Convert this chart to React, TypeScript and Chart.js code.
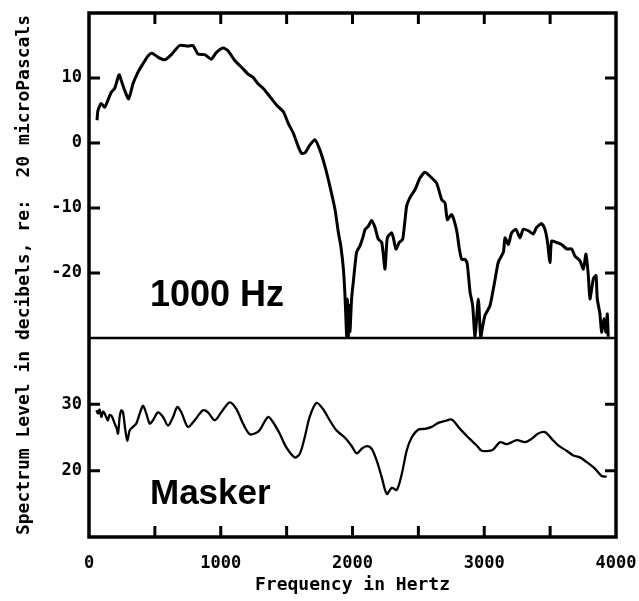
import React, { useEffect, useRef } from "react";
import { Chart, registerables } from "chart.js";
Chart.register(...registerables);

// ---- Data ----
const topFreq = [
  61, 68, 93, 119, 144, 169, 195, 228, 245, 271, 301, 334, 372, 410, 448, 478, 524, 575, 625, 688,
  751, 789, 827, 878, 928, 966, 1017, 1055, 1106, 1156, 1207, 1245, 1283, 1323, 1374, 1425, 1475, 1513,
  1551, 1589, 1614, 1640, 1677, 1715, 1753, 1791, 1829, 1867, 1893, 1911, 1931, 1943, 1950, 1956, 1962,
  1968, 1975, 1981, 1993, 2006, 2031, 2057, 2082, 2095, 2120, 2146, 2171, 2196, 2222, 2247, 2264, 2297,
  2310, 2330, 2355, 2381, 2411, 2436, 2474, 2512, 2550, 2588, 2639, 2677, 2702, 2720, 2753, 2791, 2811,
  2829, 2854, 2871, 2892, 2912, 2930, 2955, 2973, 2990, 3006, 3044, 3082, 3107, 3145, 3158, 3183, 3208,
  3241, 3271, 3296, 3334, 3372, 3397, 3436, 3461, 3479, 3499, 3511, 3549, 3587, 3625, 3663, 3689, 3726,
  3752, 3772, 3790, 3802, 3828, 3848, 3858, 3878, 3891, 3909, 3924, 3934, 3941,
];
const topLevel = [
  3.5, 5.0, 6.1, 5.5, 6.6, 7.8, 8.4, 10.5, 9.6, 8.1, 6.8, 9.1, 10.9, 12.2, 13.4, 13.8, 13.2, 12.8, 13.6, 15.0,
  14.9, 15.0, 13.7, 13.6, 12.9, 13.9, 14.6, 14.2, 12.7, 11.7, 10.6, 10.1, 9.1, 8.4, 7.1, 5.8, 4.8, 3.0,
  1.5, -0.6, -1.6, -1.5, -0.3, 0.5, -1.1, -3.6, -6.7, -10.2, -13.8, -15.8, -19.4, -23.5, -27, -29.8, -24,
  -29.8, -25, -29, -24, -21.4, -16.8, -15.8, -14.3, -13.3, -12.8, -11.9, -13.0, -14.8, -15.3, -19.4, -14.6, -13.8,
  -14.6, -16.3, -15.3, -14.8, -9.7, -8.4, -7.2, -5.4, -4.5, -5.1, -6.2, -8.7, -9.2, -11.8, -11.0, -13.5, -16.3,
  -17.9, -17.9, -18.6, -22.9, -25.0, -29.8, -24.0, -29.8, -28, -26.5, -25, -21, -18.3, -16.8, -14.6, -15.6, -13.8,
  -13.3, -14.6, -13.3, -13.5, -14.0, -13.0, -12.4, -13.3, -15.1, -18.4, -15.1, -15.3, -15.6, -16.3, -16.3, -17.4, -18.1,
  -19.4, -17.1, -20.4, -24.0, -20.9, -20.4, -24.0, -26.3, -29.1, -27.0, -29.1, -26.3, -29.8,
];
const maskerFreq = [
  56, 68, 80, 94, 106, 119, 132, 144, 156, 169, 182, 195, 210, 220, 233, 245, 258, 276, 291, 309, 334,
  359, 385, 410, 435, 461, 486, 524, 562, 600, 638, 670, 701, 751, 802, 865, 903, 954, 1004, 1068, 1118,
  1169, 1219, 1258, 1295, 1359, 1397, 1447, 1498, 1561, 1599, 1637, 1675, 1726, 1776, 1827, 1877, 1941,
  1991, 2032, 2070, 2108, 2146, 2184, 2222, 2260, 2298, 2336, 2374, 2411, 2449, 2500, 2550, 2601, 2651,
  2702, 2753, 2816, 2879, 2943, 2981, 3044, 3069, 3120, 3170, 3246, 3310, 3360, 3410, 3461, 3512, 3562,
  3625, 3676, 3726, 3777, 3840, 3891, 3929,
];
const maskerLevel = [
  29.1, 28.6, 29.2, 28.1, 28.9, 28.6, 28.0, 27.6, 28.4, 28.3, 27.8, 27.1, 26.4, 25.6, 28.1, 29.1, 28.8, 26.1, 24.5, 26.1, 26.6,
  27.1, 28.6, 29.8, 28.6, 27.1, 27.6, 28.8, 28.1, 26.8, 28.1, 29.6, 28.8, 26.6, 27.6, 29.1, 28.8, 27.6, 28.8, 30.3, 29.3,
  27.1, 25.5, 25.6, 26.1, 28.1, 27.3, 25.6, 23.5, 22.0, 22.5, 25.0, 28.1, 30.2, 29.3, 27.6, 26.1, 25.0,
  23.8, 22.6, 23.3, 23.7, 23.3, 21.5, 19.0, 16.5, 17.4, 17.1, 19.5, 23.0, 25.0, 26.2, 26.3, 26.6, 27.2,
  27.5, 27.7, 26.3, 25.0, 23.8, 23.0, 23.0, 23.2, 24.3, 24.0, 24.6, 24.3, 24.8, 25.6, 25.8, 24.8, 23.8,
  23.0, 22.3, 22.0, 21.3, 20.3, 19.2, 19.1,
];

const xLabelTicks = [0, 1000, 2000, 3000, 4000];
const xMinorTicks = [500, 1000, 1500, 2000, 2500, 3000, 3500];
const topTicks = [-20, -10, 0, 10];
const maskerTicks = [20, 30];
const yTitle = "Spectrum Level in decibels, re:  20 microPascals";
const xTitle = "Frequency in Hertz";
const topLabel = "1000 Hz";
const bottomLabel = "Masker";

const MONO = "'DejaVu Sans Mono', monospace";
const SANS = "'Liberation Sans', Arial, sans-serif";

const framePlugin = {
  id: "frame",
  afterDraw(chart: any) {
    const ctx = chart.ctx;
    const area = chart.chartArea;
    const xs = chart.scales.x;
    const yt = chart.scales.yTop;
    const yb = chart.scales.yBot;
    ctx.save();
    ctx.strokeStyle = "#000";
    ctx.fillStyle = "#000";
    ctx.lineCap = "butt";
    // frame
    ctx.lineWidth = 3.5;
    ctx.strokeRect(area.left, area.top, area.right - area.left, area.bottom - area.top);
    // divider
    ctx.lineWidth = 2.5;
    const divY = yt.bottom;
    ctx.beginPath();
    ctx.moveTo(area.left, divY);
    ctx.lineTo(area.right, divY);
    ctx.stroke();
    // ticks
    ctx.lineWidth = 3;
    const tl = 11;
    ctx.beginPath();
    for (const v of xMinorTicks) {
      const px = xs.getPixelForValue(v);
      ctx.moveTo(px, area.top);
      ctx.lineTo(px, area.top + tl);
      ctx.moveTo(px, area.bottom);
      ctx.lineTo(px, area.bottom - tl);
    }
    for (const v of topTicks) {
      const py = yt.getPixelForValue(v);
      ctx.moveTo(area.left, py);
      ctx.lineTo(area.left + tl, py);
      ctx.moveTo(area.right, py);
      ctx.lineTo(area.right - tl, py);
    }
    for (const v of maskerTicks) {
      const py = yb.getPixelForValue(v);
      ctx.moveTo(area.left, py);
      ctx.lineTo(area.left + tl, py);
      ctx.moveTo(area.right, py);
      ctx.lineTo(area.right - tl, py);
    }
    ctx.stroke();

    // panel labels
    ctx.font = `bold 36px ${SANS}`;
    ctx.textAlign = "left";
    ctx.textBaseline = "alphabetic";
    ctx.fillText(topLabel, xs.getPixelForValue(463), yt.getPixelForValue(-25));
    ctx.font = `bold 35px ${SANS}`;
    ctx.fillText(bottomLabel, xs.getPixelForValue(463), yb.getPixelForValue(15));

    // axis titles
    ctx.font = `bold 18px ${MONO}`;
    ctx.textAlign = "center";
    ctx.textBaseline = "alphabetic";
    ctx.fillText(xTitle, xs.getPixelForValue(2000), 590);
    ctx.save();
    ctx.translate(24, (area.top + area.bottom) / 2);
    ctx.rotate(-Math.PI / 2);
    ctx.textBaseline = "middle";
    ctx.fillText(yTitle, 0, 0);
    ctx.restore();
    ctx.restore();
  },
};

export default function App() {
  const ref = useRef<HTMLCanvasElement | null>(null);
  useEffect(() => {
    if (!ref.current) return;
    const tickFont = { family: MONO, weight: "bold" as const, size: 17 };
    const plain = (v: any) => String(v);
    const chart = new Chart(ref.current, {
      type: "line",
      data: {
        datasets: [
          {
            data: topFreq.map((f, i) => ({ x: f, y: topLevel[i] })),
            yAxisID: "yTop",
            borderColor: "#000",
            borderWidth: 3,
            pointRadius: 0,
            tension: 0.2,
            fill: false,
          },
          {
            data: maskerFreq.map((f, i) => ({ x: f, y: maskerLevel[i] })),
            yAxisID: "yBot",
            borderColor: "#000",
            borderWidth: 2.3,
            pointRadius: 0,
            tension: 0.3,
            fill: false,
          },
        ],
      },
      options: {
        responsive: false,
        animation: false,
        layout: { padding: { left: 0, top: 13, right: 23, bottom: 0 } },
        plugins: { legend: { display: false }, tooltip: { enabled: false } },
        scales: {
          x: {
            type: "linear",
            min: 0,
            max: 4000,
            grid: { display: false, drawTicks: false },
            border: { display: false },
            ticks: { font: tickFont, color: "#000", padding: 16, maxRotation: 0, callback: plain },
            afterBuildTicks: (s: any) => {
              s.ticks = xLabelTicks.map((v) => ({ value: v }));
            },
            afterFit: (s: any) => {
              s.height = 64;
              s.paddingLeft = 0;
              s.paddingRight = 0;
            },
          },
          yTop: {
            type: "linear",
            position: "left",
            stack: "panels",
            stackWeight: 325,
            weight: 1,
            min: -30,
            max: 20,
            grid: { display: false, drawTicks: false },
            border: { display: false },
            ticks: { font: tickFont, color: "#000", padding: 7, callback: plain },
            afterBuildTicks: (s: any) => {
              s.ticks = topTicks.map((v) => ({ value: v }));
            },
            afterFit: (s: any) => {
              s.width = 89;
              s.paddingTop = 0;
              s.paddingBottom = 0;
            },
          },
          yBot: {
            type: "linear",
            position: "left",
            stack: "panels",
            stackWeight: 199,
            weight: 0,
            min: 10,
            max: 40,
            grid: { display: false, drawTicks: false },
            border: { display: false },
            ticks: { font: tickFont, color: "#000", padding: 7, callback: plain },
            afterBuildTicks: (s: any) => {
              s.ticks = maskerTicks.map((v) => ({ value: v }));
            },
            afterFit: (s: any) => {
              s.width = 89;
              s.paddingTop = 0;
              s.paddingBottom = 0;
            },
          },
        },
      },
      plugins: [framePlugin],
    } as any);
    return () => chart.destroy();
  }, []);
  return (
    <div style={{ position: "fixed", left: 0, top: 0, width: 639, height: 601, background: "#fff" }}>
      <canvas ref={ref} width={639} height={601} style={{ width: 639, height: 601, display: "block" }} />
    </div>
  );
}
